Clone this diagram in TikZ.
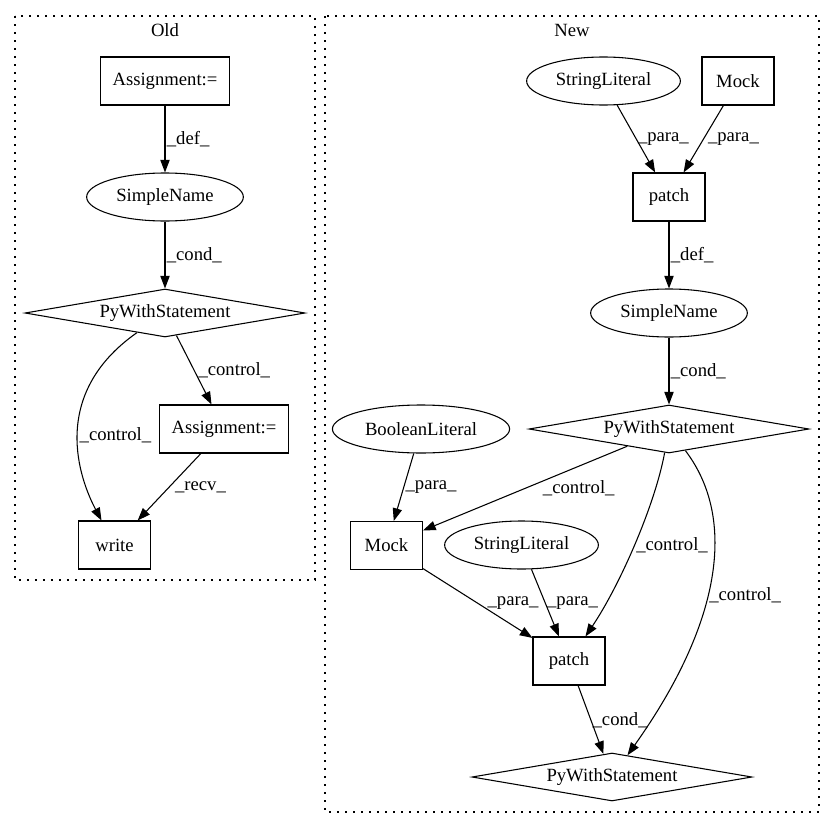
\documentclass[tikz,border=0pt]{standalone}
\usepackage{fontspec}
\setmainfont{Liberation Serif}
\usetikzlibrary{shapes.geometric,arrows.meta}

\begin{document}
\begin{tikzpicture}[x=0.75pt,y=-0.75pt,font=\fontsize{14}{16}\selectfont,
  box/.style={draw,rectangle,line width=0.8pt,minimum width=54pt,minimum height=36pt,inner xsep=9pt},
  oval/.style={draw,ellipse,line width=0.8pt,minimum height=36pt,inner xsep=5pt,inner ysep=1pt},
  dia/.style={draw,diamond,aspect=6,line width=0.8pt,minimum width=210pt,minimum height=36pt,inner sep=0pt},
  edge/.style={line width=0.8pt,-{Triangle[length=9.5pt,width=7pt]}},
  lbl/.style={inner sep=1pt,anchor=west},
  clust/.style={line width=0.8pt,dash pattern=on 1.2pt off 4.8pt}]
%\draw[step=50,gray,very thin] (0,0) grid (835,828);
\useasboundingbox (0,0) rectangle (835,828);

\draw[clust] (15,16) rectangle (315,580);
\node (old) at (165,30) {Old};
\draw[clust] (325,16) rectangle (819,812);
\node (new) at (572,30) {New};

\node[box] (as1) at (165,81) {Assignment:=};
\node[oval] (sn1) at (165,197) {SimpleName};
\node[dia] (pw1) at (165,313) {PyWithStatement};
\node[box] (as2) at (224,429) {Assignment:=};
\node[box] (wr) at (114.5,545) {write};

\node[oval] (sl1) at (603.5,81) {StringLiteral};
\node[box] (mk1) at (738,81) {Mock};
\node[box] (pt1) at (669,197) {patch};
\node[oval] (sn2) at (669,313) {SimpleName};
\node[dia] (pw2) at (669,429) {PyWithStatement};
\node[oval] (bl) at (421,429) {BooleanLiteral};
\node[box] (mk2) at (386.5,545.5) {Mock};
\node[oval] (sl2) at (521.5,545) {StringLiteral};
\node[box] (pt2) at (569,661) {patch};
\node[dia] (pw3) at (612,777) {PyWithStatement};

\draw[edge] (as1) -- node[lbl] {\_def\_} (sn1);
\draw[edge] (sn1) -- node[lbl] {\_cond\_} (pw1);
\draw[edge] (pw1) -- node[lbl,xshift=2pt] {\_control\_} (as2);
\draw[edge] (pw1) .. controls (48,395) and (80,480) .. node[lbl] {\_control\_} (wr);
\draw[edge] (as2) -- node[lbl,xshift=3pt] {\_recv\_} (wr);

\draw[edge] (sl1) -- node[lbl] {\_para\_} (pt1);
\draw[edge] (mk1) -- node[lbl,xshift=2pt] {\_para\_} (pt1);
\draw[edge] (pt1) -- node[lbl] {\_def\_} (sn2);
\draw[edge] (sn2) -- node[lbl] {\_cond\_} (pw2);
\draw[edge] (bl) -- node[lbl] {\_para\_} (mk2);
\draw[edge] (pw2) -- node[lbl,xshift=12pt] {\_control\_} (mk2);
\draw[edge] (pw2) .. controls (655,505) and (620,585) .. node[lbl] {\_control\_} (pt2);
\draw[edge] (pw2) .. controls (738,520) and (720,625) .. node[lbl,pos=0.55] {\_control\_} (pw3);
\draw[edge] (mk2) -- node[lbl,xshift=6pt] {\_para\_} (pt2);
\draw[edge] (sl2) -- node[lbl] {\_para\_} (pt2);
\draw[edge] (pt2) -- node[lbl] {\_cond\_} (pw3);

\end{tikzpicture}
\end{document}
